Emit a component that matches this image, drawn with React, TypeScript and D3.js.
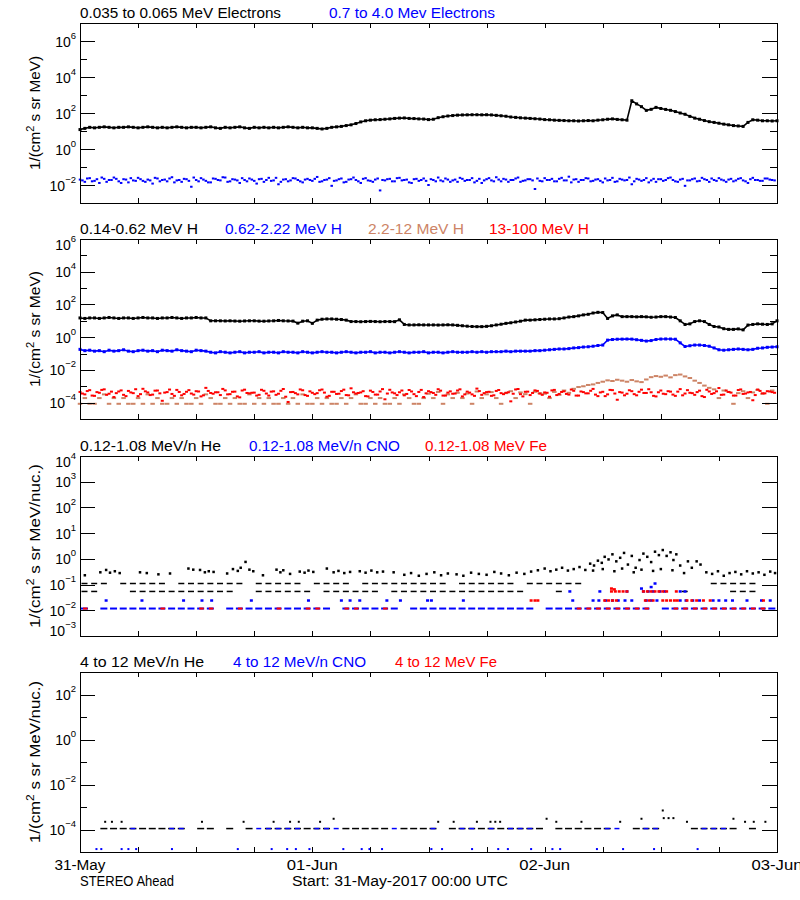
import React from "react";
import * as d3 from "d3";

const START = Date.UTC(2017, 4, 31, 0, 0);
const END = Date.UTC(2017, 5, 3, 0, 0);
const HOUR = 3600 * 1000;

const xTickLabels = ["31-May", "01-Jun", "02-Jun", "03-Jun"];
const footerLeft = "STEREO Ahead";
const footerCenter = "Start: 31-May-2017 00:00 UTC";

const BLACK = "#000000";
const BLUE = "#0000ff";
const RED = "#ff0000";
const BROWN = "#cd8466";

// ---------- Panel 1: electrons (30-min cadence) ----------
const elecLow = [
  12, 14, 16, 15, 16, 17, 16, 15, 16, 16, 17, 16, 15, 16, 17, 16, 15, 16, 15, 16, 17, 16, 15, 16, 16,
  15, 16, 17, 15, 14, 16, 15, 16, 17, 15, 14, 16, 15, 16, 15, 16, 15, 16, 17, 16, 15, 16, 15, 15,
  14, 13, 14, 16, 17, 18, 20, 22,
  26, 32, 37, 40, 42, 43, 45, 47, 50, 52, 53, 50, 49, 47, 46, 43,
  45, 55, 62, 68, 72, 76, 78, 79, 80, 80, 79, 80, 78, 74, 70, 66,
  60, 57, 54, 52, 50, 48, 46, 43, 42, 40, 39, 38, 37, 37, 36, 37,
  38, 37, 40, 42, 45, 47, 44, 42, 40,
  480, 320, 225, 140, 160, 205, 178, 158, 141, 120, 100, 85, 65, 52, 45, 38, 33, 30, 27, 24, 22, 20, 19, 18, 30, 42, 40, 37, 37, 36, 37,
];
// two interleaved samplings (on the half hour, and 15 min later)
const elecHigh = [
  0.020, 0.015, 0.024, 0.017, 0.013, 0.022, 0.019, 0.026, 0.016, 0.021, 0.014, 0.018, 0.025, 0.017, 0.020, 0.012, 0.023, 0.019, 0.016, 0.027, 0.018, 0.015, 0.021, 0.008,
  0.019, 0.024, 0.017, 0.014, 0.022, 0.018, 0.026, 0.016, 0.020, 0.013, 0.019, 0.023, 0.017, 0.021, 0.015, 0.025, 0.018, 0.011, 0.020, 0.016, 0.024, 0.019, 0.014, 0.022,
  0.017, 0.028, 0.016, 0.020, 0.009, 0.018, 0.023, 0.015, 0.021, 0.019, 0.013, 0.024, 0.017, 0.020, 0.005, 0.018, 0.022, 0.016, 0.025, 0.019, 0.014, 0.021, 0.017, 0.023,
  0.010, 0.019, 0.026, 0.016, 0.020, 0.018, 0.015, 0.022, 0.019, 0.024, 0.017, 0.013, 0.021, 0.018, 0.027, 0.016, 0.020, 0.019, 0.023, 0.015, 0.018, 0.021, 0.006, 0.017,
  0.024, 0.019, 0.016, 0.022, 0.018, 0.029, 0.020, 0.015, 0.019, 0.023, 0.017, 0.021, 0.014, 0.018, 0.025, 0.016, 0.020, 0.019, 0.011, 0.022, 0.017, 0.024, 0.018, 0.015,
  0.021, 0.019, 0.026, 0.016, 0.020, 0.009, 0.018, 0.023, 0.017, 0.021, 0.015, 0.019, 0.024, 0.018, 0.020, 0.016, 0.022, 0.018, 0.013, 0.025, 0.019, 0.017, 0.023, 0.019,
];
const elecHighB = [
  0.018, 0.023, 0.016, 0.021, 0.026, 0.015, 0.019, 0.022, 0.013, 0.020, 0.024, 0.017, 0.021, 0.015, 0.018, 0.025, 0.016, 0.020, 0.023, 0.014, 0.019, 0.022, 0.017, 0.026,
  0.016, 0.020, 0.014, 0.023, 0.019, 0.027, 0.015, 0.021, 0.018, 0.024, 0.016, 0.020, 0.012, 0.022, 0.019, 0.017, 0.025, 0.015, 0.021, 0.018, 0.023, 0.016, 0.020, 0.019,
  0.022, 0.015, 0.019, 0.024, 0.017, 0.021, 0.014, 0.020, 0.026, 0.016, 0.022, 0.018, 0.015, 0.023, 0.019, 0.021, 0.016, 0.024, 0.018, 0.020, 0.013, 0.022, 0.019, 0.017,
  0.021, 0.016, 0.018, 0.023, 0.015, 0.020, 0.025, 0.017, 0.019, 0.014, 0.022, 0.018, 0.024, 0.016, 0.020, 0.022, 0.015, 0.019, 0.026, 0.017, 0.021, 0.018, 0.023, 0.016,
  0.019, 0.022, 0.016, 0.025, 0.018, 0.014, 0.021, 0.019, 0.024, 0.016, 0.020, 0.017, 0.023, 0.019, 0.015, 0.022, 0.018, 0.026, 0.016, 0.020, 0.019, 0.014, 0.022, 0.021,
  0.017, 0.024, 0.019, 0.015, 0.022, 0.018, 0.021, 0.016, 0.025, 0.019, 0.023, 0.017, 0.020, 0.015, 0.022, 0.018, 0.024, 0.016, 0.021, 0.019, 0.017, 0.023, 0.020, 0.018,
];

// ---------- Panel 2: protons (30-min cadence) ----------
const pLow = [
  15, 14, 15, 15, 14, 15, 16, 15, 14, 15, 15, 14, 15, 16, 15, 15, 14, 15, 15, 16, 15, 14, 15, 15, 16, 15, 15,
  10, 10, 10, 9.8, 10, 9.7, 9.5, 9.8, 10, 10, 9.6, 9.5, 9.8, 10, 10.5, 10, 9.8, 9.6,
  7.2, 9.5, 10, 7.0, 11,
  12.5, 13, 13, 12.5, 12, 11,
  9, 9, 8.8, 9, 9.2, 9, 8.8, 9, 9, 8.9, 11.5,
  6, 5.6, 5.6, 5.7, 5.6, 5.6,
  5.6, 5.5, 5.6, 5.7, 5.6, 5.3, 5.0, 4.7, 4.5, 4.4, 4.4,
  4.6, 5.0, 5.6, 6.2, 7.0, 7.6, 8.5, 9.5, 11,
  11, 11.5, 12, 12.5, 13, 13, 13.5, 15, 17, 18, 20, 23,
  25, 30, 33, 32, 14,
  20, 23, 18,
  18, 18, 17.5, 18, 17.5, 16.5, 17, 18, 18, 17, 16,
  10, 6, 6.5, 9, 10, 9,
  6, 4.5, 4.2,
  3.3, 3.0, 3.0, 3.2, 2.8, 5.5,
  6, 6.5, 6.2, 6, 6.5, 10,
];
const pMid = [
  0.18, 0.15, 0.16, 0.14, 0.15, 0.13, 0.16, 0.14, 0.15, 0.17, 0.14, 0.13, 0.15, 0.16, 0.14, 0.15, 0.13, 0.16, 0.15, 0.14, 0.17, 0.15, 0.14, 0.13, 0.16, 0.15, 0.14,
  0.12, 0.11, 0.13, 0.12, 0.11, 0.12, 0.13, 0.11, 0.12, 0.12, 0.13, 0.11, 0.12, 0.12, 0.11, 0.13, 0.12, 0.12, 0.11, 0.13,
  0.12, 0.11, 0.12, 0.13, 0.12, 0.12, 0.11, 0.12, 0.13, 0.12, 0.11, 0.12, 0.12, 0.13, 0.11, 0.12, 0.12, 0.11, 0.12, 0.13,
  0.12, 0.11, 0.12, 0.12, 0.13, 0.11, 0.12, 0.12, 0.11, 0.12, 0.13, 0.12, 0.12, 0.12, 0.13, 0.12, 0.13, 0.12, 0.13, 0.13,
  0.13, 0.14, 0.13, 0.14, 0.14, 0.14,
  0.14, 0.15, 0.15, 0.16, 0.17, 0.18, 0.19, 0.19, 0.20, 0.22, 0.23, 0.25, 0.26, 0.28, 0.31, 0.33,
  0.66, 0.72, 0.75, 0.76, 0.77, 0.76, 0.70, 0.64, 0.58, 0.62, 0.72, 0.77, 0.78, 0.77, 0.75, 0.45,
  0.27, 0.30, 0.33, 0.33, 0.31, 0.28, 0.22, 0.17,
  0.16, 0.17, 0.18, 0.19, 0.18, 0.17, 0.18, 0.21, 0.22, 0.24, 0.25, 0.26,
];
const pHighBrown = [
  8.5e-5, 1.9e-4, 8.5e-5, 8.5e-5, 1.9e-4, 3.2e-4, 8.5e-5, 1.9e-4, 8.5e-5, 1.9e-4,
  8.5e-5, 8.5e-5, 1.9e-4, 8.5e-5, 3.2e-4, 8.5e-5, 1.9e-4, 8.5e-5, 8.5e-5, 1.9e-4,
  8.5e-5, 1.9e-4, 8.5e-5, 8.5e-5, 1.9e-4, 8.5e-5, 3.2e-4, 1.9e-4, 8.5e-5, 8.5e-5,
  1.9e-4, 8.5e-5, 1.9e-4, 8.5e-5, 8.5e-5, 3.2e-4, 8.5e-5, 1.9e-4, 8.5e-5, 1.9e-4,
  8.5e-5, 8.5e-5, 1.9e-4, 8.5e-5, 1.9e-4, 8.5e-5, 3.2e-4, 8.5e-5, 8.5e-5, 1.9e-4,
  8.5e-5, 1.9e-4, 8.5e-5, 8.5e-5, 1.9e-4, 8.5e-5, 1.9e-4, 3.2e-4, 8.5e-5, 8.5e-5,
  1.9e-4, 8.5e-5, 1.9e-4, 8.5e-5, 8.5e-5, 1.9e-4, 8.5e-5, 3.2e-4, 1.9e-4, 8.5e-5,
  8.5e-5, 1.9e-4, 3.5e-4, 1.9e-4, 4.5e-4, 8.5e-5, 3.2e-4, 1.9e-4, 4.0e-4, 1.9e-4,
  3.6e-4, 8.5e-5, 4.8e-4, 1.9e-4, 3.2e-4, 4.4e-4, 1.9e-4, 8.5e-5, 3.8e-4, 5.0e-4,
  1.9e-4, 4.2e-4, 3.3e-4, 8.5e-5, 4.6e-4, 3.7e-4,
  3.5e-4, 1.9e-4, 4.5e-4, 3.0e-4, 5.5e-4, 4.0e-4, 7e-4, 9e-4, 1.0e-3, 1.2e-3,
  1.3e-3, 1.6e-3, 1.9e-3, 2.3e-3, 2.1e-3, 2.5e-3, 2.2e-3, 1.9e-3, 2.4e-3, 2.0e-3, 1.8e-3, 2.6e-3, 3.6e-3, 4.2e-3,
  3.8e-3, 4.5e-3, 3.5e-3, 4.8e-3, 5.2e-3, 4.0e-3, 3.2e-3, 2.2e-3, 1.6e-3, 1.1e-3, 8e-4, 6.5e-4, 1.9e-4, 5.5e-4,
  4.5e-4, 8.5e-5, 3.8e-4, 5e-4, 1.9e-4, 4.2e-4, 6e-4, 3.5e-4, 8.5e-5, 5.5e-4,
];
const pTopRed = [
  4.5e-4, 3.2e-4, 5.8e-4, 2.6e-4, 4.0e-4, 6.5e-4, 3.5e-4, 2.2e-4, 4.8e-4, 3.0e-4, 5.2e-4, 3.8e-4, 2.5e-4, 7.0e-4, 4.2e-4, 3.1e-4, 5.5e-4, 1.3e-4, 4.4e-4, 3.4e-4, 6.0e-4, 2.8e-4, 4.6e-4, 3.6e-4,
  5.0e-4, 2.4e-4, 8.0e-4, 3.9e-4, 4.3e-4, 2.9e-4, 5.6e-4, 3.3e-4, 4.7e-4, 2.1e-4, 6.2e-4, 3.7e-4, 4.1e-4, 3.0e-4, 5.3e-4, 2.7e-4, 4.9e-4, 3.5e-4, 6.8e-4, 1.1e-4, 4.5e-4, 3.2e-4, 5.7e-4, 2.6e-4,
  4.0e-4, 3.8e-4, 6.3e-4, 2.3e-4, 4.6e-4, 3.4e-4, 5.1e-4, 2.9e-4, 7.5e-4, 3.6e-4, 4.2e-4, 2.5e-4, 5.4e-4, 3.1e-4, 4.8e-4, 1.6e-4, 6.1e-4, 3.7e-4, 4.3e-4, 2.8e-4, 5.9e-4, 3.3e-4, 4.5e-4, 2.2e-4,
  5.0e-4, 3.9e-4, 6.6e-4, 2.7e-4, 4.1e-4, 3.5e-4, 5.5e-4, 2.4e-4, 4.7e-4, 3.2e-4, 7.2e-4, 3.0e-4, 4.4e-4, 2.6e-4, 5.2e-4, 3.8e-4, 4.0e-4, 1.2e-4, 6.4e-4, 3.3e-4, 4.6e-4, 2.9e-4, 5.6e-4, 3.6e-4,
  4.2e-4, 2.3e-4, 6.0e-4, 3.4e-4, 4.9e-4, 3.1e-4, 5.3e-4, 2.7e-4, 4.4e-4, 3.7e-4, 6.9e-4, 2.5e-4, 4.6e-4, 3.2e-4, 5.8e-4, 1.5e-4, 4.1e-4, 3.5e-4, 5.0e-4, 2.8e-4, 6.2e-4, 3.9e-4, 4.3e-4, 2.4e-4,
  5.5e-4, 3.3e-4, 4.7e-4, 2.6e-4, 6.7e-4, 3.6e-4, 4.0e-4, 3.0e-4, 5.4e-4, 2.2e-4, 4.8e-4, 3.8e-4, 7.8e-4, 3.1e-4, 4.5e-4, 2.7e-4, 5.9e-4, 3.4e-4, 4.2e-4, 1.4e-4, 6.3e-4, 3.7e-4, 5.0e-4, 4.4e-4,
];
const pTopRedB = [
  3.6e-4, 5.1e-4, 2.7e-4, 4.4e-4, 6.0e-4, 3.0e-4, 4.7e-4, 3.8e-4, 5.6e-4, 2.5e-4, 4.2e-4, 6.6e-4, 3.3e-4, 4.9e-4, 2.9e-4, 5.4e-4, 3.7e-4, 4.1e-4, 6.3e-4, 2.6e-4, 4.5e-4, 3.4e-4, 5.8e-4, 3.1e-4,
  4.8e-4, 2.8e-4, 5.2e-4, 3.5e-4, 4.3e-4, 6.9e-4, 3.2e-4, 4.6e-4, 2.4e-4, 5.5e-4, 3.9e-4, 4.0e-4, 2.7e-4, 6.1e-4, 3.6e-4, 4.7e-4, 3.0e-4, 5.3e-4, 2.3e-4, 4.4e-4, 3.8e-4, 6.4e-4, 2.9e-4, 4.9e-4,
  3.3e-4, 5.7e-4, 4.1e-4, 2.6e-4, 4.6e-4, 3.5e-4, 6.2e-4, 2.8e-4, 4.3e-4, 3.9e-4, 5.0e-4, 2.4e-4, 4.5e-4, 3.1e-4, 6.7e-4, 3.6e-4, 4.2e-4, 2.9e-4, 5.5e-4, 3.4e-4, 4.8e-4, 2.5e-4, 6.0e-4, 3.7e-4,
  4.4e-4, 3.0e-4, 5.4e-4, 2.7e-4, 4.9e-4, 3.6e-4, 6.5e-4, 3.2e-4, 4.1e-4, 2.6e-4, 5.1e-4, 3.8e-4, 4.6e-4, 2.8e-4, 5.9e-4, 3.3e-4, 4.3e-4, 3.5e-4, 6.8e-4, 2.4e-4, 4.7e-4, 3.9e-4, 5.2e-4, 3.0e-4,
  4.0e-4, 5.6e-4, 2.9e-4, 4.5e-4, 3.4e-4, 6.3e-4, 2.7e-4, 4.8e-4, 3.7e-4, 5.3e-4, 3.1e-4, 4.2e-4, 2.5e-4, 6.0e-4, 3.6e-4, 4.4e-4, 2.8e-4, 5.7e-4, 3.3e-4, 4.6e-4, 3.9e-4, 6.6e-4, 2.6e-4, 4.3e-4,
  3.5e-4, 5.0e-4, 3.1e-4, 4.7e-4, 2.8e-4, 5.8e-4, 3.8e-4, 4.4e-4, 2.5e-4, 6.1e-4, 3.4e-4, 4.9e-4, 3.0e-4, 5.5e-4, 4.1e-4, 2.7e-4, 6.4e-4, 3.6e-4, 4.5e-4, 2.9e-4, 5.2e-4, 3.7e-4, 4.8e-4, 4.0e-4,
];

// ---------- Panel 3: 0.12-1.08 MeV/n ions ----------
// hourly rows (null = no sample in that hour)
const heRowOne = [
  0.11, 0.11, 0.11, null, 0.11, 0.11, 0.11, 0.11, 0.11, null, 0.11, 0.11, 0.11, 0.11, 0.11, 0.11, 0.11, null,
  0.11, 0.11, 0.11, 0.11, 0.11, null,
  0.11, 0.11, 0.11, 0.11, null, 0.11, 0.11, 0.11, 0.11, 0.11, 0.11, 0.11, 0.11, 0.11, null, 0.11, 0.11, 0.11, 0.11, 0.11, 0.11, null, 0.11, 0.11, 0.11, 0.11, 0.11, 0.11,
  null, null, null, null, null, null, null, null, null, null, null, null, null,
  0.11, 0.11, 0.11, 0.11, 0.11, null, null,
];
const heRowTwo = [
  0.054, 0.054, null, null, null, 0.054, 0.054, 0.054, 0.054, 0.054, 0.054, 0.054, 0.054, 0.054, 0.054, 0.054, null, null,
  0.054, 0.054, 0.054, 0.054, 0.054, 0.054, null, 0.054, 0.054, 0.054, 0.054, 0.054, 0.054, null,
  0.054, 0.054, 0.054, 0.054, 0.054, 0.054, 0.054, 0.054, 0.054, 0.054, 0.054, 0.054, 0.054, 0.054,
  null, null, null, 0.054, null, null, null, null, null, null, null, null, null, null, null, null,
  0.054, null, null, null, null, 0.054, 0.054, 0.054, null, null,
];
const heScatter: [number, number][] = [
  [0.5, 0.23], [2.1, 0.30], [2.7, 0.37], [3.1, 0.29], [3.6, 0.33], [4.1, 0.28], [6.2, 0.30], [6.9, 0.28], [8.1, 0.25], [9.3, 0.27],
  [11.2, 0.42], [11.7, 0.38], [12.4, 0.37], [12.9, 0.30], [13.3, 0.33], [13.8, 0.31], [15.2, 0.27], [15.8, 0.40], [16.3, 0.34], [16.6, 0.45],
  [17.1, 0.76], [17.5, 0.38], [17.9, 0.33], [18.9, 0.23], [20.3, 0.38], [20.7, 0.30], [21.0, 0.36], [21.7, 0.26], [22.7, 0.32], [23.2, 0.29],
  [23.6, 0.35], [24.1, 0.31], [25.5, 0.42], [26.2, 0.30], [26.7, 0.34], [27.3, 0.28], [27.9, 0.31], [28.9, 0.33], [29.5, 0.29], [30.1, 0.35],
  [30.7, 0.30], [31.3, 0.32], [32.4, 0.30],
  [33.5, 0.24], [34.2, 0.28], [35.0, 0.22], [35.8, 0.26], [36.6, 0.30], [37.3, 0.23], [38.0, 0.27], [38.9, 0.25], [39.6, 0.22], [40.4, 0.29],
  [41.2, 0.26], [42.0, 0.24], [42.8, 0.31], [43.5, 0.27], [44.3, 0.23], [45.1, 0.29], [45.9, 0.26], [46.6, 0.32],
  [47.3, 0.36], [48.0, 0.42], [48.6, 0.33], [49.2, 0.38], [49.8, 0.45], [50.4, 0.35], [51.0, 0.40], [51.6, 0.48], [52.2, 0.37],
  [52.7, 0.65], [53.1, 0.55], [53.5, 0.85], [53.9, 0.70], [54.2, 1.2], [54.6, 0.95], [55.0, 1.5], [55.4, 0.8], [55.8, 1.1], [56.2, 1.7],
  [56.6, 0.6], [57.0, 1.3], [57.4, 0.45], [57.8, 0.9], [58.2, 1.6], [58.6, 1.2], [59.0, 0.75], [59.4, 1.9], [59.8, 1.4], [60.2, 2.2],
  [60.6, 1.3], [61.0, 1.8], [61.3, 0.9], [61.6, 1.5],
  [53.0, 0.35], [54.0, 0.40], [55.2, 0.33], [56.0, 0.42], [57.2, 0.30], [58.0, 0.38], [59.2, 0.34], [60.0, 0.40], [61.2, 0.36],
  [62.0, 0.55], [62.4, 0.28], [62.8, 0.8], [63.2, 0.45], [63.7, 0.8], [64.1, 0.6],
  [64.7, 0.30], [65.3, 0.26], [65.9, 0.33], [66.5, 0.22], [67.1, 0.28], [67.7, 0.31], [68.3, 0.25], [68.9, 0.33], [69.5, 0.27], [70.1, 0.30],
  [70.7, 0.24], [71.3, 0.32], [71.8, 0.28],
];
const cnoRow = [
  0.0117, null, 0.0117, 0.0117, 0.0117, 0.0117, 0.0117, 0.0117, 0.0117, 0.0117, 0.0117, 0.0117, 0.0117, 0.0117, null, 0.0117, 0.0117, 0.0117,
  0.0117, 0.0117, 0.0117, 0.0117, 0.0117, 0.0117, 0.0117, 0.0117, null, 0.0117, 0.0117, 0.0117, 0.0117, 0.0117, 0.0117, null, 0.0117, 0.0117,
  0.0117, 0.0117, 0.0117, 0.0117, 0.0117, 0.0117, 0.0117, 0.0117, 0.0117, 0.0117, 0.0117, null, 0.0117, 0.0117, 0.0117, 0.0117, 0.0117, 0.0117,
  0.0117, 0.0117, 0.0117, 0.0117, 0.0117, null, 0.0117, 0.0117, 0.0117, 0.0117, 0.0117, 0.0117, 0.0117, 0.0117, 0.0117, 0.0117, 0.0117, 0.0117,
];
const cnoScatter: [number, number][] = [
  [2.7, 0.024], [6.4, 0.024], [10.7, 0.024], [12.6, 0.024], [13.6, 0.024], [17.7, 0.024], [23.6, 0.024], [27.0, 0.024], [27.9, 0.024], [28.9, 0.024],
  [31.7, 0.024], [33.1, 0.024], [35.9, 0.024], [36.3, 0.024], [39.6, 0.024], [50.9, 0.024], [53.0, 0.024], [53.6, 0.024], [54.3, 0.024], [55.0, 0.024],
  [55.6, 0.024], [56.3, 0.024], [57.0, 0.024], [58.5, 0.024], [59.0, 0.024], [59.6, 0.024], [62.0, 0.024], [62.6, 0.024], [63.3, 0.024], [64.0, 0.024],
  [65.4, 0.024], [66.0, 0.024], [66.7, 0.024], [67.4, 0.024], [68.9, 0.024], [70.4, 0.024], [71.3, 0.024],
  [50.6, 0.054], [53.7, 0.054], [56.5, 0.054], [58.2, 0.054], [58.7, 0.054], [59.2, 0.054], [59.9, 0.054], [60.4, 0.054], [62.0, 0.054], [62.5, 0.054],
  [58.0, 0.07], [59.0, 0.08], [59.4, 0.11],
];
const feRow = [
  0.0117, null, null, null, null, null, null, null, 0.0117, null, null, null, 0.0117, 0.0117, null, null, 0.0117, null,
  null, null, 0.0117, null, null, 0.0117, 0.0117, null, null, 0.0117, 0.0117, null, null, 0.0117, null, null, null, null,
  null, null, null, null, null, null, null, null, null, null, null, null, null, null, null, 0.0117, 0.0117, 0.0117,
  0.0117, 0.0117, 0.0117, 0.0117, 0.0117, null, null, 0.0117, 0.0117, 0.0117, 0.0117, 0.0117, 0.0117, 0.0117, 0.0117, 0.0117, 0.0117, null,
];
const feScatter: [number, number][] = [
  [46.6, 0.024], [47.0, 0.024], [47.3, 0.024], [54.2, 0.024], [54.6, 0.024], [55.0, 0.024], [55.4, 0.024], [58.4, 0.024], [58.8, 0.024], [59.2, 0.024],
  [60.2, 0.024], [60.6, 0.024], [61.0, 0.024], [61.4, 0.024], [61.7, 0.024], [62.7, 0.024], [63.2, 0.024], [63.7, 0.024], [64.4, 0.024], [65.1, 0.024],
  [70.6, 0.024],
  [54.9, 0.054], [55.3, 0.054], [55.7, 0.054], [56.1, 0.054], [56.5, 0.054], [58.2, 0.054], [58.6, 0.054], [59.0, 0.054], [59.4, 0.054], [59.8, 0.054],
  [60.2, 0.054], [60.6, 0.054], [61.6, 0.054], [54.9, 0.07], [55.2, 0.065],
];

// ---------- Panel 4: 4-12 MeV/n ions ----------
const he4Row = [
  null, null, 1.1e-4, 1.1e-4, 1.1e-4, 1.1e-4, 1.1e-4, 1.1e-4, 1.1e-4, 1.1e-4, 1.1e-4, null, 1.1e-4, 1.1e-4, null, 1.1e-4, null, 1.1e-4,
  null, 1.1e-4, 1.1e-4, 1.1e-4, 1.1e-4, 1.1e-4, 1.1e-4, 1.1e-4, null, 1.1e-4, 1.1e-4, 1.1e-4, 1.1e-4, 1.1e-4, null, 1.1e-4, 1.1e-4, 1.1e-4,
  1.1e-4, null, 1.1e-4, 1.1e-4, 1.1e-4, 1.1e-4, 1.1e-4, 1.1e-4, 1.1e-4, 1.1e-4, 1.1e-4, 1.1e-4, null, 1.1e-4, 1.1e-4, 1.1e-4, 1.1e-4, 1.1e-4,
  1.1e-4, null, null, 1.1e-4, 1.1e-4, 1.1e-4, null, null, null, 1.1e-4, 1.1e-4, 1.1e-4, 1.1e-4, 1.1e-4, null, 1.1e-4, null, null,
];
const he4Scatter: [number, number][] = [
  [2.6, 2.2e-4], [3.3, 2.2e-4], [4.3, 2.2e-4], [12.6, 2.2e-4], [16.9, 2.2e-4], [20.0, 2.2e-4], [21.7, 2.2e-4], [22.6, 2.2e-4], [24.8, 2.2e-4], [26.2, 3.0e-4],
  [37.0, 2.2e-4], [38.6, 2.2e-4], [41.0, 2.2e-4], [42.4, 2.2e-4], [42.9, 2.2e-4], [43.4, 2.2e-4], [48.2, 3.0e-4], [49.2, 2.2e-4], [51.8, 2.2e-4], [55.8, 2.2e-4],
  [58.0, 3.0e-4], [60.2, 7.0e-4], [60.3, 3.2e-4], [60.8, 3.2e-4], [61.3, 3.2e-4], [62.7, 2.2e-4], [67.5, 3.0e-4], [68.7, 2.2e-4], [69.6, 2.2e-4], [70.8, 2.2e-4],
];
const cno4Row = [
  null, null, null, null, null, 1.1e-4, null, null, null, 1.1e-4, 1.1e-4, null, null, null, null, null, null, null,
  1.1e-4, 1.1e-4, 1.1e-4, 1.1e-4, 1.1e-4, null, 1.1e-4, 1.1e-4, 1.1e-4, null, null, null, null, null, 1.1e-4, null, null, null,
  1.1e-4, null, null, 1.1e-4, 1.1e-4, null, 1.1e-4, null, 1.1e-4, 1.1e-4, 1.1e-4, null, null, null, null, null, null, null,
  1.1e-4, 1.1e-4, null, null, 1.1e-4, 1.1e-4, null, null, null, null, 1.1e-4, 1.1e-4, 1.1e-4, null, null, null, null, null,
];
const cno4Scatter: [number, number][] = [
  [1.7, 1.35e-5], [2.2, 1.35e-5], [4.3, 1.35e-5], [5.0, 1.35e-5], [5.8, 1.35e-5], [9.5, 1.35e-5], [16.3, 1.35e-5], [19.8, 1.35e-5], [21.4, 1.35e-5],
  [22.3, 1.35e-5], [23.7, 1.35e-5], [27.2, 1.35e-5], [29.1, 1.35e-5], [29.9, 1.35e-5], [31.2, 1.35e-5], [36.3, 1.35e-5], [37.4, 1.35e-5], [40.5, 1.35e-5],
  [43.2, 1.35e-5], [44.2, 1.35e-5], [46.6, 1.35e-5], [48.8, 1.35e-5], [49.6, 1.35e-5], [53.4, 1.35e-5], [56.1, 1.35e-5], [59.3, 1.35e-5], [63.8, 1.35e-5],
];

// ---------- layout ----------
const LEFT = 80;
const RIGHT = 777;
const PH = 180;
const FONT = "'Liberation Sans', Arial, sans-serif";

const x = d3.scaleUtc().domain([new Date(START), new Date(END)]).range([LEFT, RIGHT]);
const halfHour = (i: number, offMin = 0) => x(new Date(START + (i * HOUR) / 2 + offMin * 60000));
const hourStart = (i: number) => x(new Date(START + i * HOUR));
const atHour = (h: number) => x(new Date(START + h * HOUR));

type Title = { text: string; color: string; x: number; w: number };

function Dots({ values, y, color, w, h, offMin = 0 }: { values: number[]; y: any; color: string; w: number; h: number; offMin?: number }) {
  return (
    <g fill={color}>
      {values.map((v, i) =>
        v == null ? null : <rect key={i} x={halfHour(i, offMin) - w / 2} y={y(v) - h / 2} width={w} height={h} />
      )}
    </g>
  );
}
function PairDots({ pairs, y, color, w, h }: { pairs: [number, number][]; y: any; color: string; w: number; h: number }) {
  return (
    <g fill={color}>
      {pairs.map(([hr, v], i) => (
        <rect key={i} x={atHour(hr) - w / 2} y={y(v) - h / 2} width={w} height={h} />
      ))}
    </g>
  );
}
function HourRow({ values, y, color, w, h, off }: { values: (number | null)[]; y: any; color: string; w: number; h: number; off: number }) {
  return (
    <g fill={color}>
      {values.map((v, i) => (v == null ? null : <rect key={i} x={hourStart(i) + off} y={y(v) - h / 2} width={w} height={h} />))}
    </g>
  );
}
function Line({ values, y, color, sw }: { values: number[]; y: any; color: string; sw: number }) {
  const gen = d3
    .line<number>()
    .x((_, i) => halfHour(i))
    .y((d) => y(d));
  return (
    <g>
      <path d={gen(values) || ""} fill="none" stroke={color} strokeWidth={sw} strokeLinejoin="round" />
      <g fill={color}>
        {values.map((v, i) => (
          <rect key={i} x={halfHour(i) - 1.5} y={y(v) - 1.5} width={3} height={3} />
        ))}
      </g>
    </g>
  );
}

function Panel({
  top,
  domain,
  labelExps,
  minorExps,
  yLabelTail,
  yLabelLen,
  titles,
  render,
}: {
  top: number;
  domain: [number, number];
  labelExps: number[];
  minorExps: number[];
  yLabelTail: string;
  yLabelLen: number;
  titles: Title[];
  render: (y: any) => React.ReactNode;
}) {
  const bottom = top + PH;
  const y = d3.scaleLog().domain(domain).range([bottom, top]);
  const xTicks = d3.range(0, 73, 6).map((hh) => Math.round(hourStart(hh)) + 0.5);
  const cy = (top + bottom) / 2;
  return (
    <g>
      {titles.map((t, i) => (
        <text key={i} x={t.x} y={top - 5} fill={t.color} fontSize={14} textLength={t.w} lengthAdjust="spacingAndGlyphs">
          {t.text}
        </text>
      ))}
      <g>{render(y)}</g>
      <rect x={LEFT + 0.5} y={top + 0.5} width={RIGHT - LEFT} height={PH} fill="none" stroke="#000" strokeWidth={1} />
      {xTicks.map((xx, i) => (
        <g key={i} stroke="#000">
          <line x1={xx} x2={xx} y1={top} y2={top + 5} />
          <line x1={xx} x2={xx} y1={bottom} y2={bottom - 5} />
        </g>
      ))}
      {labelExps.map((e) => {
        const ty = Math.round(y(Math.pow(10, e))) + 0.5;
        return (
          <g key={"M" + e} stroke="#000">
            <line x1={LEFT} x2={LEFT + 15} y1={ty} y2={ty} />
            <line x1={RIGHT - 15} x2={RIGHT} y1={ty} y2={ty} />
          </g>
        );
      })}
      {minorExps.map((e) => {
        const ty = Math.round(y(Math.pow(10, e))) + 0.5;
        return (
          <g key={"m" + e} stroke="#000">
            <line x1={LEFT} x2={LEFT + 7} y1={ty} y2={ty} />
            <line x1={RIGHT - 7} x2={RIGHT} y1={ty} y2={ty} />
          </g>
        );
      })}
      {labelExps.map((e) => {
        const ty = y(Math.pow(10, e));
        const base = Math.min(Math.max(ty + 5.5, top + 11), bottom);
        const ex = e < 0 ? "\u2212" + Math.abs(e) : String(e);
        return (
          <text key={"L" + e} x={76} y={base} textAnchor="end" fontSize={14} fill="#000">
            10
            <tspan dy={-8} fontSize={9.5}>
              {ex}
            </tspan>
          </text>
        );
      })}
      <text
        transform={`translate(40,${cy}) rotate(-90)`}
        textAnchor="middle"
        fontSize={14}
        fill="#000"
        textLength={yLabelLen}
        lengthAdjust="spacingAndGlyphs"
      >
        1/(cm
        <tspan dy={-6} fontSize={10}>
          2
        </tspan>
        <tspan dy={6}>{" s sr " + yLabelTail + ")"}</tspan>
      </text>
    </g>
  );
}

export default function App() {
  const P1 = 23;
  const P2 = 239;
  const P3 = 456;
  const P4 = 672;
  const dayTicks = [0, 24, 48, 72];
  return (
    <svg
      width={800}
      height={900}
      style={{ position: "absolute", left: 0, top: 0, display: "block" }}
      fontFamily={FONT}
    >
      <rect x={0} y={0} width={800} height={900} fill="#fff" />
      <Panel
        top={P1}
        domain={[1e-3, 1e7]}
        labelExps={[-2, 0, 2, 4, 6]}
        minorExps={[-1, 1, 3, 5]}
        yLabelTail="MeV"
        yLabelLen={114}
        titles={[
          { text: "0.035 to 0.065 MeV Electrons", color: BLACK, x: 80, w: 201 },
          { text: "0.7 to 4.0 Mev Electrons", color: BLUE, x: 329, w: 166 },
        ]}
        render={(y) => (
          <>
            <Line values={elecLow} y={y} color={BLACK} sw={1.6} />
            <Dots values={elecHigh} y={y} color={BLUE} w={2.5} h={2} />
            <Dots values={elecHighB} y={y} color={BLUE} w={2.5} h={2} offMin={15} />
          </>
        )}
      />
      <Panel
        top={P2}
        domain={[1e-5, 1e6]}
        labelExps={[-4, -2, 0, 2, 4, 6]}
        minorExps={[-3, -1, 1, 3, 5]}
        yLabelTail="MeV"
        yLabelLen={116}
        titles={[
          { text: "0.14-0.62 MeV H", color: BLACK, x: 80, w: 118 },
          { text: "0.62-2.22 MeV H", color: BLUE, x: 225, w: 117 },
          { text: "2.2-12 MeV H", color: BROWN, x: 368, w: 96 },
          { text: "13-100 MeV H", color: RED, x: 489, w: 100 },
        ]}
        render={(y) => (
          <>
            <Line values={pLow} y={y} color={BLACK} sw={1.6} />
            <Line values={pMid} y={y} color={BLUE} sw={1.6} />
            <Dots values={pHighBrown} y={y} color={BROWN} w={4.5} h={2} />
            <Dots values={pTopRed} y={y} color={RED} w={3} h={2} />
            <Dots values={pTopRedB} y={y} color={RED} w={3} h={2} offMin={15} />
          </>
        )}
      />
      <Panel
        top={P3}
        domain={[1e-3, 1e4]}
        labelExps={[-3, -2, -1, 0, 1, 2, 3, 4]}
        minorExps={[]}
        yLabelTail="MeV/nuc."
        yLabelLen={164}
        titles={[
          { text: "0.12-1.08 MeV/n He", color: BLACK, x: 80, w: 141 },
          { text: "0.12-1.08 MeV/n CNO", color: BLUE, x: 249, w: 151 },
          { text: "0.12-1.08 MeV Fe", color: RED, x: 425, w: 122 },
        ]}
        render={(y) => (
          <>
            <HourRow values={heRowOne} y={y} color={BLACK} w={6} h={1.5} off={1.5} />
            <HourRow values={heRowTwo} y={y} color={BLACK} w={6} h={1.5} off={1.5} />
            <PairDots pairs={heScatter} y={y} color={BLACK} w={2.5} h={2.5} />
            <HourRow values={cnoRow} y={y} color={BLUE} w={7} h={2} off={1} />
            <PairDots pairs={cnoScatter} y={y} color={BLUE} w={3} h={2.5} />
            <HourRow values={feRow} y={y} color={RED} w={4.5} h={2} off={3} />
            <PairDots pairs={feScatter} y={y} color={RED} w={3} h={2.5} />
          </>
        )}
      />
      <Panel
        top={P4}
        domain={[1e-5, 1e3]}
        labelExps={[-4, -2, 0, 2]}
        minorExps={[-3, -1, 1]}
        yLabelTail="MeV/nuc."
        yLabelLen={162}
        titles={[
          { text: "4 to 12 MeV/n He", color: BLACK, x: 80, w: 124 },
          { text: "4 to 12 MeV/n CNO", color: BLUE, x: 233, w: 133 },
          { text: "4 to 12 MeV Fe", color: RED, x: 395, w: 102 },
        ]}
        render={(y) => (
          <>
            <HourRow values={he4Row} y={y} color={BLACK} w={7} h={1.5} off={1} />
            <PairDots pairs={he4Scatter} y={y} color={BLACK} w={2} h={2} />
            <HourRow values={cno4Row} y={y} color={BLUE} w={5} h={1.5} off={2} />
            <PairDots pairs={cno4Scatter} y={y} color={BLUE} w={2} h={2} />
          </>
        )}
      />
      {dayTicks.map((hh, i) => (
        <text key={i} x={atHour(hh)} y={870} textAnchor="middle" fontSize={14} fill="#000" textLength={51} lengthAdjust="spacingAndGlyphs">
          {xTickLabels[i]}
        </text>
      ))}
      <text x={80} y={886} fontSize={14} fill="#000" textLength={94} lengthAdjust="spacingAndGlyphs">
        {footerLeft}
      </text>
      <text x={292} y={886} fontSize={14} fill="#000" textLength={216} lengthAdjust="spacingAndGlyphs">
        {footerCenter}
      </text>
    </svg>
  );
}
